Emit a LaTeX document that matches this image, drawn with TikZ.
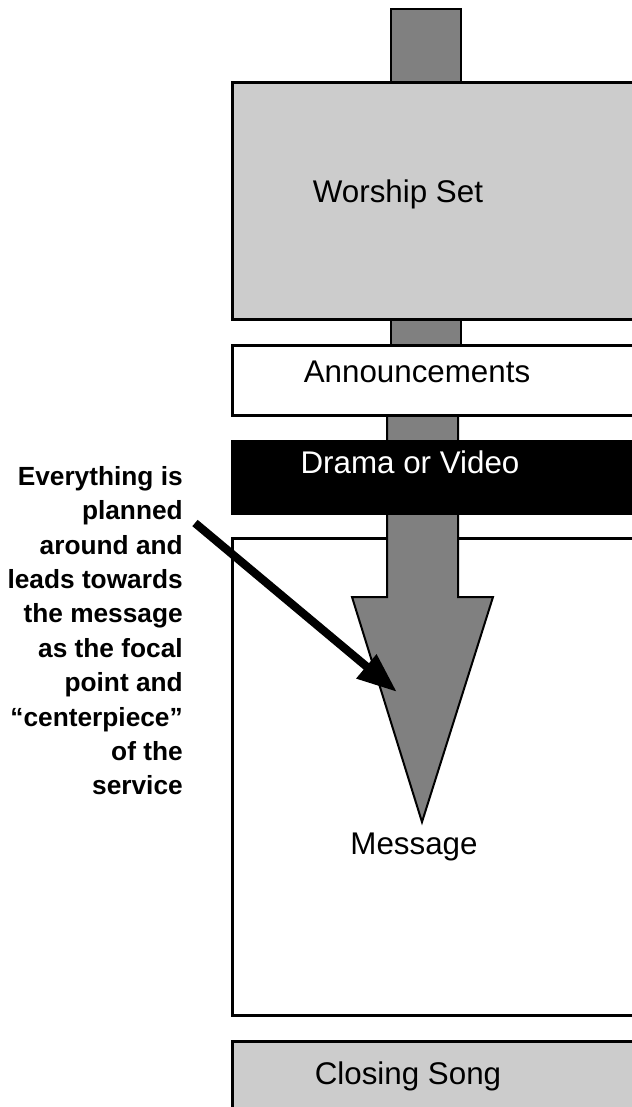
\documentclass[tikz,border=0pt]{standalone}
\usepackage{fontspec}
\setmainfont{Liberation Sans}
\usetikzlibrary{arrows.meta,positioning}
\definecolor{stagegray}{HTML}{CCCCCC}
\definecolor{flowgray}{HTML}{808080}
\tikzset{
    stagebox/.style={rectangle, draw=black, line width=2.25pt,
        minimum width=310.5pt, inner sep=0pt},
    stagelabel/.style={anchor=base, inner sep=0pt,
        font=\fontsize{23.5}{28}\selectfont},
    notetext/.style={anchor=north east, inner sep=0pt, align=right,
        font=\fontsize{19.7}{25.8}\selectfont\bfseries},
    flowshape/.style={draw=black, line width=1.5pt, fill=flowgray},
    pointer/.style={-{Triangle[length=30pt,width=22pt]}, line width=6.2pt}
}

\begin{document}
\begin{tikzpicture}[x=0.75pt, y=-0.75pt, node distance=17.25pt]
        \useasboundingbox (0,0) rectangle (632,1107);
        % lower part of the service, under the flow
        \node[stagebox, fill=white, minimum height=357.75pt, anchor=north west] (message) at (231,537) {};
        \node[stagebox, fill=stagegray, minimum height=75pt, below=of message] (closing) {};
        % the flow towards the message
        \draw[flowshape] (391,9) rectangle (461,380);
        \draw[flowshape] (387,390) -- (387,597) -- (352,597) -- (422,822) -- (493,597) -- (458,597) -- (458,390) -- cycle;
        % upper part of the service, over the flow
        \node[stagebox, fill=stagegray, minimum height=177.75pt, anchor=north west] (worship) at (231,81) {};
        \node[stagebox, fill=white, minimum height=52.5pt, below=of worship] (announce) {};
        \node[stagebox, fill=black, minimum height=54pt, below=of announce] (drama) {};
        \node[stagelabel] (worshiplbl) at (398,202) {Worship Set};
        \node[stagelabel] (announcelbl) at (417,382) {Announcements};
        \node[stagelabel, text=white] (dramalbl) at (410,473) {Drama or Video};
        \node[stagelabel] (messagelbl) at (414,854) {Message};
        \node[stagelabel] (closinglbl) at (408,1084) {Closing Song};
        \node[notetext] (note) at (183,466) {Everything is\\planned\\around and\\leads towards\\the message\\as the focal\\point and\\“centerpiece”\\of the\\service};
        \coordinate (tail) at (195,523);
        \coordinate (focus) at (397,692);
        \draw[pointer] (tail) -- (focus);
    \end{tikzpicture}
\end{document}
